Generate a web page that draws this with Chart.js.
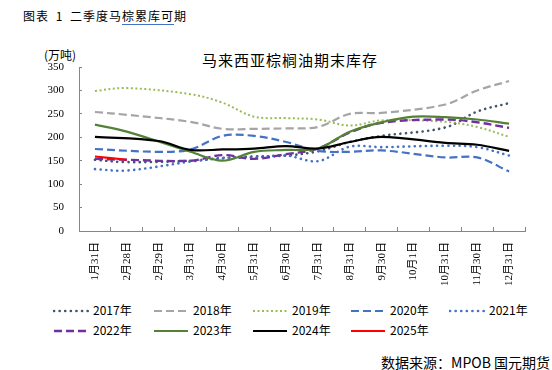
<!DOCTYPE html>
<html>
<head>
<meta charset="utf-8">
<script src="https://cdn.jsdelivr.net/npm/chart.js@4"></script>
<style>
  body { margin: 0; background: #fff; }
  #wrap { position: relative; width: 552px; height: 370px; overflow: hidden; font-family: "Noto Sans CJK SC", sans-serif; color: #000; }
  #chart { position: absolute; left: 0; top: 0; }
  .abs { position: absolute; white-space: nowrap; }
  .leg { position: absolute; font-size: 12px; line-height: 14px; width: 95px; height: 16px; white-space: nowrap; }
  .leg svg { position: absolute; left: 0; top: 4px; }
  .leg span { position: absolute; left: 40px; top: -1px; white-space: nowrap; }
</style>
</head>
<body>
<div id="wrap">
  <div class="abs" style="left:23px;top:7px;font-size:12px;letter-spacing:1px;word-spacing:3px;">图表 1 二季度马<span style="border-bottom:1px solid #4472C4;">棕累库可</span>期</div>
  <div class="abs" style="left:44px;top:46px;font-size:12px;">(万吨)</div>
  <div class="abs" style="left:190px;width:200px;top:49px;font-size:15px;text-align:center;letter-spacing:1px;">马来西亚棕榈油期末库存</div>
  <canvas id="chart" width="552" height="290"></canvas>
  <div id="legend"></div>
  <div class="abs" style="right:2px;top:352px;font-size:14px;">数据来源：MPOB 国元期货</div>
</div>
<script>
// x categories (Excel date rows; empty cells are gaps)
const categories = ['1月31日', '2月28日', '2月29日', '3月31日', '4月30日', '5月31日', '6月30日',
                    '7月31日', '8月31日', '9月30日', '10月1日', '10月31日', '11月30日', '12月31日'];
const yTicks = [0, 50, 100, 150, 200, 250, 300, 350];

// stocks, 万吨
const s2017 = [152, 147, null, 150, 156, 159, 161, 170, 190, 203, null, 221, 255, 273];
const s2018 = [254, 248, null, 233, 218, 218, 219, 222, 250, 252, null, 270, 300, 320];
const s2019 = [299, 305, null, 292, 274, 244, 241, 238, 225, 236, null, 233, 222, 201];
const s2020 = [175, null, 169, 174, 203, 203, 190, 171, 169, 172, null, 157, 157, 127];
const s2021 = [132, 129, null, 148, 155, 157, 161, 149, 180, 179, null, 182, 179, 161];
const s2022 = [154, 152, null, 150, 162, 154, 164, 176, 210, 231, null, 238, 232, 220];
const s2023 = [227, 212, null, 169, 150, 169, 173, 176, 212, 232, 244, 243, 238, 229];
const s2024 = [201, null, 192, 173, 174, 176, 181, 176, 190, 201, null, 188, 184, 171];
const s2025 = [159, 152];

const years = ['2017年', '2018年', '2019年', '2020年', '2021年', '2022年', '2023年', '2024年', '2025年'];
const seriesData = [s2017, s2018, s2019, s2020, s2021, s2022, s2023, s2024, s2025];

// line styles per year
const styles = [
    { color: '#44546A', width: 2.6, dash: [0.1, 5.5], cap: 'round' },
    { color: '#A5A5A5', width: 2.2, dash: [8, 4], cap: 'butt' },
    { color: '#9BBB59', width: 2, dash: [2, 2.5], cap: 'butt' },
    { color: '#4472C4', width: 2.2, dash: [8, 4], cap: 'butt' },
    { color: '#4472C4', width: 2.6, dash: [0.1, 5.5], cap: 'round' },
    { color: '#7030A0', width: 2.4, dash: [8, 4], cap: 'butt' },
    { color: '#548235', width: 2.2, dash: [], cap: 'butt' },
    { color: '#000000', width: 2.2, dash: [], cap: 'butt' },
    { color: '#FF0000', width: 2.2, dash: [], cap: 'butt' }
];

const datasets = years.map((name, i) => ({
    label: name,
    data: seriesData[i],
    borderColor: styles[i].color,
    borderWidth: styles[i].width,
    borderDash: styles[i].dash,
    borderCapStyle: styles[i].cap,
    pointRadius: 0,
    tension: 0.35,
    spanGaps: true,
    fill: false,
    order: years.length - i
}));

const axisFont = { family: "'Liberation Serif', 'Noto Sans CJK SC', serif", size: 11 };

new Chart(document.getElementById('chart').getContext('2d'), {
    type: 'line',
    data: { labels: categories, datasets: datasets },
    options: {
        responsive: false,
        animation: false,
        layout: { padding: { left: 39, right: 27, top: 67, bottom: 0 } },
        plugins: {
            legend: { display: false },
            tooltip: { enabled: false },
            title: { display: false }
        },
        scales: {
            x: {
                offset: true,
                grid: { offset: true, drawOnChartArea: false, tickLength: -4, color: '#868686' },
                border: { color: '#868686', width: 1 },
                ticks: {
                    color: '#000',
                    font: axisFont,
                    minRotation: 90,
                    maxRotation: 90,
                    padding: 15,
                    autoSkip: false
                },
                afterFit: (scale) => { scale.height = 59; }
            },
            y: {
                min: 0,
                max: 350,
                afterBuildTicks: (scale) => { scale.ticks = yTicks.map(v => ({ value: v })); },
                grid: { drawOnChartArea: false, tickLength: -3, color: '#868686' },
                border: { color: '#868686', width: 1 },
                ticks: { color: '#000', font: axisFont, padding: 18 },
                afterFit: (scale) => { scale.width = 40; }
            }
        }
    }
});

// legend laid out in Excel-like columns
const legCols = [53, 153, 252, 350, 449];
const legRows = [304, 324];
const legend = document.getElementById('legend');
years.forEach((name, i) => {
    const st = styles[i];
    const item = document.createElement('div');
    item.className = 'leg';
    item.style.left = legCols[i % 5] + 'px';
    item.style.top = legRows[Math.floor(i / 5)] + 'px';
    const dash = st.dash.length ? st.dash.join(' ') : 'none';
    item.innerHTML =
        '<svg width="36" height="6"><line x1="1" y1="3" x2="35" y2="3" stroke="' + st.color +
        '" stroke-width="' + st.width + '" stroke-dasharray="' + dash +
        '" stroke-linecap="' + st.cap + '"/></svg><span>' + name + '</span>';
    legend.appendChild(item);
});
</script>
</body>
</html>
